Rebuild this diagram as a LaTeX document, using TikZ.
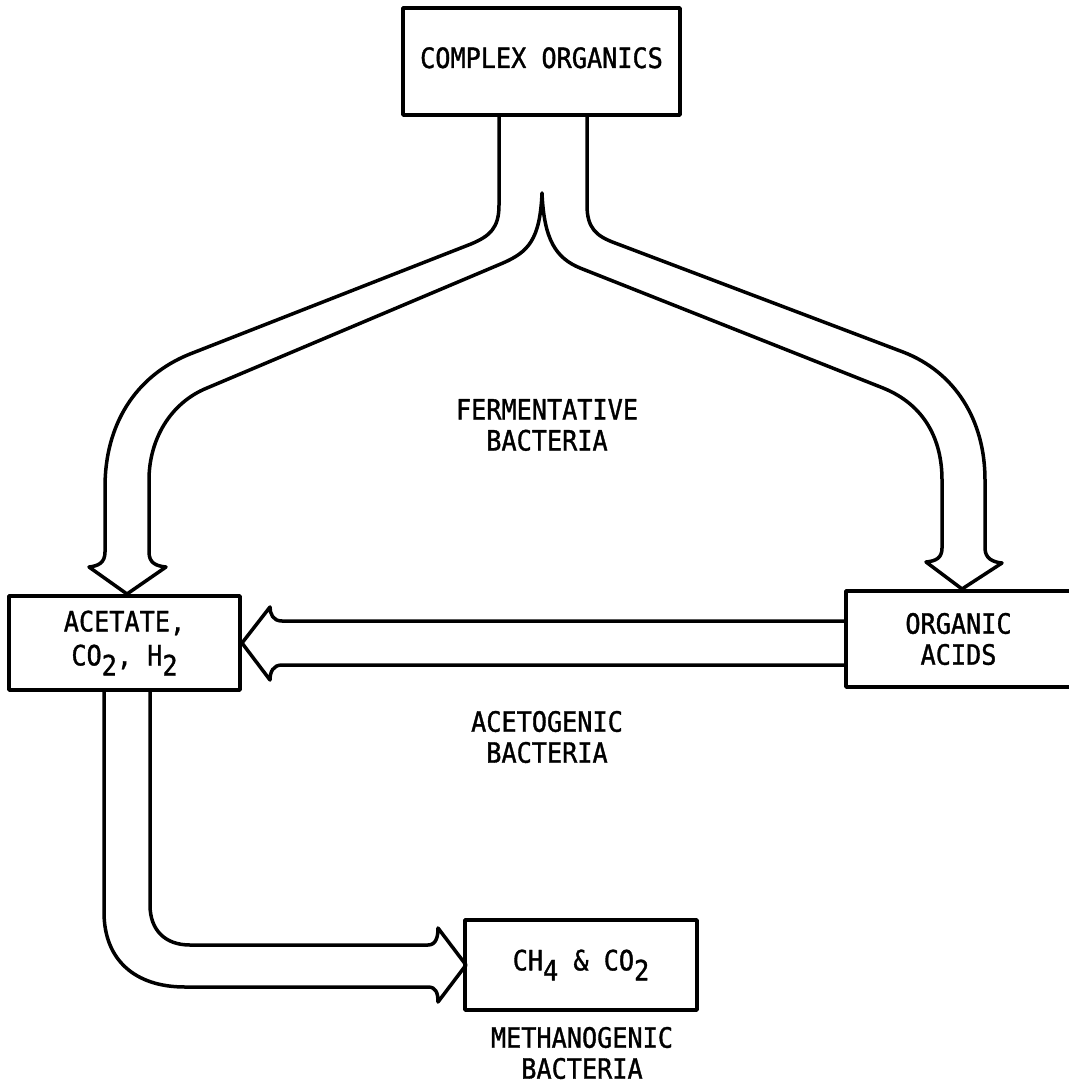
\documentclass[tikz,border=0pt]{standalone}
\usepackage{fontspec}
\newfontfamily\lett{DejaVu Sans Mono}[FakeStretch=0.9, FakeBold=1.2]
\newcommand{\sbs}[1]{\raisebox{-10pt}{#1}}
\begin{document}
\begin{tikzpicture}[x=1pt,y=-1pt, line width=3.5pt, line join=round, line cap=round,
  box/.style={draw, rectangle, inner sep=0pt, align=center, font={\lett\fontsize{28}{31}\selectfont}},
  lab/.style={align=center, font={\lett\fontsize{28}{31}\selectfont}}]
\useasboundingbox (0,0) rectangle (1068,1086);
\fill[white] (0,0) rectangle (1068,1086);

\node[box, minimum width=277pt, minimum height=107pt, text height=20pt, text depth=7pt] (co) at (541.5,61.5) {COMPLEX ORGANICS};
\node[box, minimum width=231pt, minimum height=94pt] (ac) at (124.5,643) {ACETATE,\\[3pt]CO\sbs{2}, H\sbs{2}};
\node[box, minimum width=225pt, minimum height=96pt] (oa) at (958.5,639) {ORGANIC\\ACIDS};
\node[box, minimum width=232pt, minimum height=90pt] (ch) at (581,965) {CH\sbs{4} \& CO\sbs{2}};

\node[lab] (fb) at (547,425) {FERMENTATIVE\\BACTERIA};
\node[lab] (ab) at (547,737) {ACETOGENIC\\BACTERIA};
\node[lab] (mb) at (582,1053) {METHANOGENIC\\BACTERIA};

% split arrow from complex organics
\draw (499,115) -- (499,205) .. controls (499,228) and (490,236) .. (471,244)
 -- (190,354) .. controls (135,376) and (105,425) .. (105,487)
 -- (105,552) .. controls (105,563) and (98,566) .. (89,567)
 -- (127,594) -- (166,567) .. controls (156,566) and (149,563) .. (149,552)
 -- (149,480) .. controls (149,440) and (170,403) .. (207,388)
 -- (503,263) .. controls (528,252) and (540,240) .. (542,193)
 .. controls (544,240) and (556,258) .. (580,268)
 -- (883,388) .. controls (925,405) and (942,440) .. (942,480)
 -- (942,548) .. controls (942,558) and (936,561) .. (926,562)
 -- (962,589) -- (1002,563) .. controls (992,562) and (985,558) .. (985,548)
 -- (985,480) .. controls (985,420) and (955,372) .. (903,352)
 -- (615,243) .. controls (596,236) and (587,228) .. (587,205) -- (587,115);

% acetogenic arrow
\draw (846,621) -- (282,621) .. controls (273,621) and (270,614) .. (270,607)
 -- (242,643) -- (270,680) .. controls (270,672) and (273,665) .. (282,665) -- (846,665);

% methanogenic arrow
\draw (104,690) -- (104,912) .. controls (104,960) and (135,987) .. (185,987)
 -- (428,987) .. controls (436,987) and (438,993) .. (438,1002)
 -- (466,965) -- (438,928) .. controls (438,937) and (436,945) .. (428,945)
 -- (190,945) .. controls (165,945) and (150,930) .. (150,905) -- (150,690);
\end{tikzpicture}
\end{document}
